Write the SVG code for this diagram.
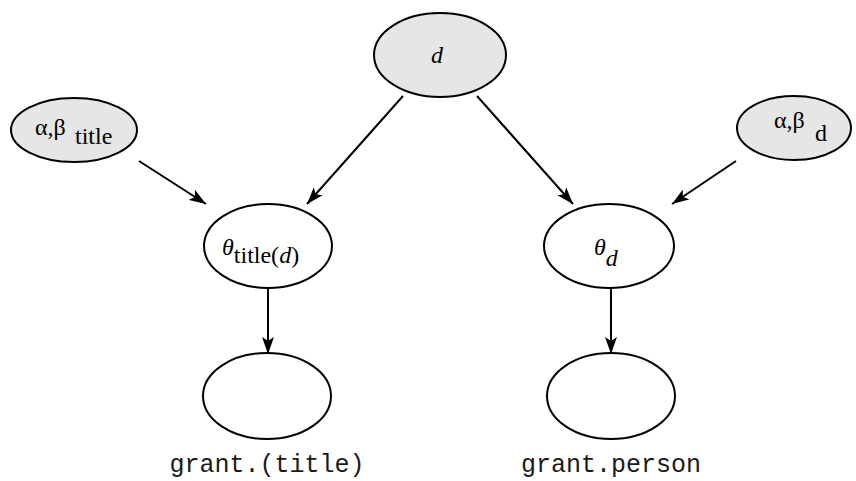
<svg xmlns="http://www.w3.org/2000/svg" width="856" height="481" viewBox="0 0 856 481">
  <style>
    .node { stroke: #000; stroke-width: 2; }
    .obs { fill: #e6e6e6; }
    .lat { fill: #fff; }
    .lbl { font-family: "Liberation Serif", "Times New Roman", serif; font-size: 24px; fill: #000; }
    .it { font-style: italic; }
    .mono { font-family: "Liberation Mono", "Courier New", monospace; font-size: 25px; fill: #1a1a1a; text-anchor: middle; }
    .edge { stroke: #000; stroke-width: 2; fill: none; marker-end: url(#arrow); }
  </style>
  <defs>
    <marker id="arrow" markerUnits="userSpaceOnUse" markerWidth="18" markerHeight="12" refX="17" refY="6" orient="auto">
      <path d="M0,0 L17,6 L0,12 L4,6 z" fill="#000"/>
    </marker>
  </defs>

  <rect width="856" height="481" fill="#fff"/>

  <g id="connectors">
    <line class="edge" x1="139" y1="161" x2="206" y2="204"/>
    <line class="edge" x1="403" y1="96" x2="307" y2="204"/>
    <line class="edge" x1="477" y1="96" x2="573" y2="204"/>
    <line class="edge" x1="736" y1="161" x2="672" y2="204"/>
    <line class="edge" x1="268" y1="289" x2="268" y2="354"/>
    <line class="edge" x1="611" y1="289" x2="611" y2="354"/>
  </g>

  <g id="node-d">
    <ellipse class="node obs" cx="440" cy="55" rx="66" ry="42"/>
    <text class="lbl it" x="437" y="63" text-anchor="middle" font-size="26">d</text>
  </g>

  <g id="node-ab-title">
    <ellipse class="node obs" cx="74" cy="130" rx="63" ry="32"/>
    <text class="lbl" x="35" y="135">α,β<tspan x="75" y="144">title</tspan></text>
  </g>

  <g id="node-ab-d">
    <ellipse class="node obs" cx="794" cy="128" rx="57" ry="32"/>
    <text class="lbl" x="774" y="128">α,β<tspan x="815" y="141">d</tspan></text>
  </g>

  <g id="node-theta-title">
    <ellipse class="node lat" cx="268" cy="246" rx="64" ry="42"/>
    <text class="lbl" x="222" y="255"><tspan class="it">θ</tspan><tspan y="263">title(</tspan><tspan class="it">d</tspan>)</text>
  </g>

  <g id="node-theta-d">
    <ellipse class="node lat" cx="609" cy="246" rx="65" ry="42"/>
    <text class="lbl" x="594" y="255"><tspan class="it">θ</tspan><tspan class="it" y="266">d</tspan></text>
  </g>

  <g id="node-grant-title">
    <ellipse class="node lat" cx="267" cy="396" rx="64" ry="43"/>
    <text class="mono" x="267" y="472">grant.(title)</text>
  </g>

  <g id="node-grant-person">
    <ellipse class="node lat" cx="611" cy="396" rx="64" ry="43"/>
    <text class="mono" x="611" y="472">grant.person</text>
  </g>
</svg>
